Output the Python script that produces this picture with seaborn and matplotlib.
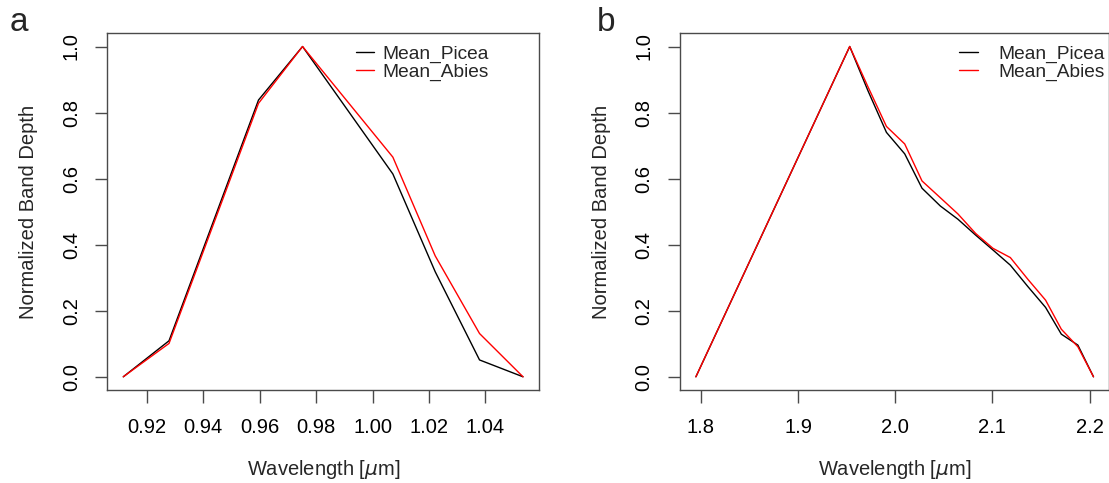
import matplotlib
matplotlib.use("Agg")
import matplotlib.pyplot as plt
import seaborn as sns
import pandas as pd

# ---- data ----
wl_a = [0.9117, 0.9279, 0.9596, 0.9752, 1.0072, 1.0222, 1.0379, 1.0533]
picea_a = [0.0, 0.109, 0.838, 1.0, 0.614, 0.318, 0.051, 0.0]
abies_a = [0.0, 0.101, 0.828, 1.0, 0.665, 0.366, 0.131, 0.0]

wl_b = [1.7949, 1.9532, 1.9720, 1.9910, 2.0098, 2.0276, 2.0465, 2.0646,
        2.0828, 2.1006, 2.1185, 2.1366, 2.1548, 2.1710, 2.1880, 2.2041]
picea_b = [0.0, 1.0, 0.866, 0.740, 0.675, 0.571, 0.517, 0.477,
           0.429, 0.384, 0.338, 0.273, 0.210, 0.129, 0.096, 0.0]
abies_b = [0.0, 1.0, 0.878, 0.758, 0.705, 0.593, 0.542, 0.493,
           0.434, 0.389, 0.361, 0.295, 0.232, 0.144, 0.091, 0.0]

series_names = ["Mean_Picea", "Mean_Abies"]
xticks_a = [0.92, 0.94, 0.96, 0.98, 1.00, 1.02, 1.04]
xticks_b = [1.8, 1.9, 2.0, 2.1, 2.2]
yticks = [0.0, 0.2, 0.4, 0.6, 0.8, 1.0]

sns.set_style("white")
plt.rcParams['font.family'] = ['Liberation Sans', 'DejaVu Sans']

W, H = 1109, 483
fig = plt.figure(figsize=(W / 100, H / 100), dpi=100)

def make_df(wl, p, a):
    return pd.DataFrame({
        "wl": wl + wl,
        "val": p + a,
        "series": [series_names[0]] * len(wl) + [series_names[1]] * len(wl),
    })

palette = {series_names[0]: "black", series_names[1]: "#ff0000"}
edge = "#4a4a4a"

def rect(l, r, t, b):
    return [l / W, 1 - b / H, (r - l) / W, (b - t) / H]

def draw(box, wl, p, a, xticks, xtl, leg_right, textpad):
    l, r, t, b = box
    ax = fig.add_axes(rect(l, r, t, b))
    df = make_df(wl, p, a)
    sns.lineplot(data=df, x="wl", y="val", hue="series", palette=palette,
                 sort=False, linewidth=1.0, ax=ax, legend=True)
    rng = max(wl) - min(wl)
    ax.set_xlim(min(wl) - 0.04 * rng, max(wl) + 0.04 * rng)
    ax.set_ylim(-0.04, 1.04)
    ax.set_xticks(xticks)
    ax.set_xticklabels(xtl)
    ax.set_yticks(yticks)
    ax.set_yticklabels([f"{v:.1f}" for v in yticks], rotation=90, va="center")
    ax.tick_params(axis="both", direction="out", length=9, width=1.0,
                   color=edge, labelsize=14.5, labelcolor="black")
    ax.tick_params(axis="x", pad=11, bottom=True)
    ax.tick_params(axis="y", pad=10, left=True)
    for s in ax.spines.values():
        s.set_color(edge)
        s.set_linewidth(1.0)
    ax.set_xlabel("Wavelength [$\\mu$m]", fontsize=14.5, labelpad=15)
    ax.set_ylabel("Normalized Band Depth", fontsize=14.5, labelpad=17)
    ax.legend(loc="upper right",
              bbox_to_anchor=((leg_right - l) / (r - l), (b - 45) / (b - t)),
              frameon=False, fontsize=13.8, handlelength=0.95,
              handletextpad=textpad, labelspacing=0.05, borderaxespad=0,
              borderpad=0)
    ax.grid(False)
    return ax

axa = draw((107.3, 539, 33.3, 390), wl_a, picea_a, abies_a, xticks_a,
           ["0.92", "0.94", "0.96", "0.98", "1.00", "1.02", "1.04"], 489, 0.45)
axb = draw((680, 1109.4, 33.3, 390), wl_b, picea_b, abies_b, xticks_b,
           ["1.8", "1.9", "2.0", "2.1", "2.2"], 1105, 1.1)

fig.text(10 / W, 1 - 31 / H, "a", fontsize=24, va="baseline", ha="left")
fig.text(597 / W, 1 - 31 / H, "b", fontsize=24, va="baseline", ha="left")

fig.savefig("out.png", dpi=100)
